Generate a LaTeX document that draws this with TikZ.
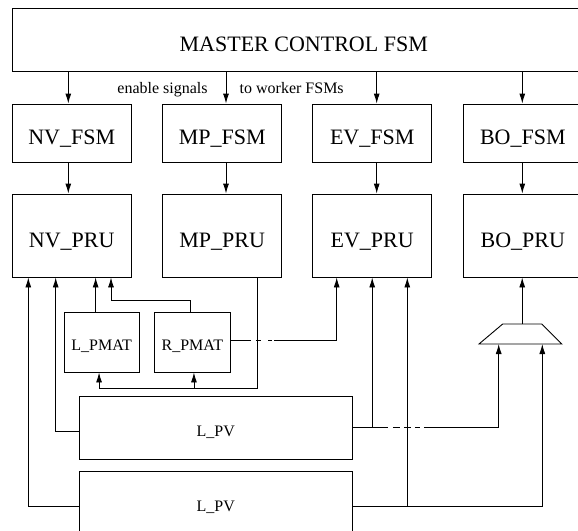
\documentclass[tikz,border=0pt]{standalone}
\usepackage{fontspec}
\setmainfont{Liberation Serif}
\usetikzlibrary{arrows.meta}

\begin{document}
\begin{tikzpicture}[x=1pt, y=-1pt, >={Latex[length=10pt,width=6pt]}, line width=0.9pt,
    blk/.style={draw, inner sep=0pt, font=\fontsize{22}{26}\selectfont, text height=23pt, text depth=0pt},
    fsmbox/.style={blk, minimum width=119pt, minimum height=58.5pt},
    prubox/.style={blk, minimum width=119pt, minimum height=83pt},
    sblk/.style={draw, inner sep=0pt, font=\fontsize{16}{19}\selectfont, text height=17pt, text depth=0pt},
    lbl/.style={inner sep=0pt, font=\fontsize{16}{19}\selectfont, anchor=base},
    hopa/.style={dash pattern=on 21pt off 4.5pt on 5.5pt off 7pt on 3.5pt off 2.5pt on 600pt},
    hopb/.style={dash pattern=on 35pt off 5pt on 7pt off 4pt on 7pt off 4pt on 5pt off 4pt on 600pt}]
    % 图幅
    \useasboundingbox (0,0) rectangle (578,530);
    \clip (0,0) rectangle (578,530);

    % 主控状态机
    \node[blk, minimum width=582.5pt, minimum height=63pt] (master) at (303.75,40) {MASTER CONTROL FSM};
    \node[lbl] (ensig) at (162.5,93) {enable signals};
    \node[lbl] (towork) at (291.7,93) {to worker FSMs};

    % 各个 FSM 与 PRU
    \node[fsmbox] (nvfsm) at (71.7,133.25) {NV\_FSM};
    \node[fsmbox] (mpfsm) at (222.2,133.25) {MP\_FSM};
    \node[fsmbox] (evfsm) at (372.2,133.25) {EV\_FSM};
    \node[fsmbox] (bofsm) at (522.8,133.25) {BO\_FSM};
    \node[prubox] (nvpru) at (71.7,235.5) {NV\_PRU};
    \node[prubox] (mppru) at (222.2,235.5) {MP\_PRU};
    \node[prubox] (evpru) at (372.2,235.5) {EV\_PRU};
    \node[prubox] (bopru) at (522.8,235.5) {BO\_PRU};

    % 使能信号
    \foreach \col/\dx in {nv/-3.4, mp/3.8, ev/4.5, bo/-0.5} {
        \draw[->] ([xshift=\dx pt]\col fsm.north |- master.south) -- ([xshift=\dx pt]\col fsm.north);
        \draw[->] ([xshift=\dx pt]\col fsm.south) -- ([xshift=\dx pt]\col pru.north);
    }

    % 矩阵与向量
    \node[sblk, minimum width=75.3pt, minimum height=59.7pt] (lpmat) at (101.65,342.15) {L\_PMAT};
    \node[sblk, minimum width=75.3pt, minimum height=60pt] (rpmat) at (192.35,342) {R\_PMAT};
    \node[sblk, minimum width=273pt, minimum height=63pt] (lpva) at (215.8,427.5) {L\_PV};
    \node[sblk, minimum width=273pt, minimum height=63pt] (lpvb) at (215.8,502.5) {L\_PV};

    % 选择器 (梯形)
    \draw (479,344) coordinate (muxbl) -- (502.7,324) -- (541.7,324) -- (561.7,344) -- cycle;
    \coordinate (muxtop) at (522.2,324);
    \coordinate (muxbot) at (521.5,344);

    % NV_PRU 的输入
    \draw[->] ([yshift=-3.5pt]lpvb.west) -| ([xshift=-43.4pt]nvpru.south);
    \draw[->] ([yshift=-3.5pt]lpva.west) -| ([xshift=-16pt]nvpru.south);
    \draw[->] ([xshift=-6pt]lpmat.north) -- ([xshift=-6pt]lpmat.north |- nvpru.south);
    \draw[->] ([xshift=-2.3pt]rpmat.north) -- ++(0,-11.3) -| ([xshift=39.3pt]nvpru.south);

    % MP_PRU 到两个矩阵
    \draw[->] ([xshift=35pt]mppru.south) |- ([xshift=-2.6pt,yshift=-15.5pt]lpmat.south) -- ([xshift=-2.6pt]lpmat.south);
    \draw[->] ([xshift=1.6pt,yshift=-15.5pt]rpmat.south) -- ([xshift=1.6pt]rpmat.south);

    % EV_PRU 的输入
    \draw[->, hopa] ([yshift=2pt]rpmat.east) -| ([xshift=-35.5pt]evpru.south);
    \draw[->] (lpva.east -| evpru.south) -- (evpru.south);
    \draw[->] ([xshift=35.1pt,yshift=-229pt]evpru.south) -- ([xshift=35.1pt]evpru.south);

    % 选择器与 BO_PRU
    \draw[->, hopb] (lpva.east) -| ([xshift=-22.8pt]muxbot);
    \draw[->] ([yshift=-3.5pt]lpvb.east) -| ([xshift=20.8pt]muxbot);
    \draw[->] (muxtop) -- (muxtop |- bopru.south);
\end{tikzpicture}
\end{document}
